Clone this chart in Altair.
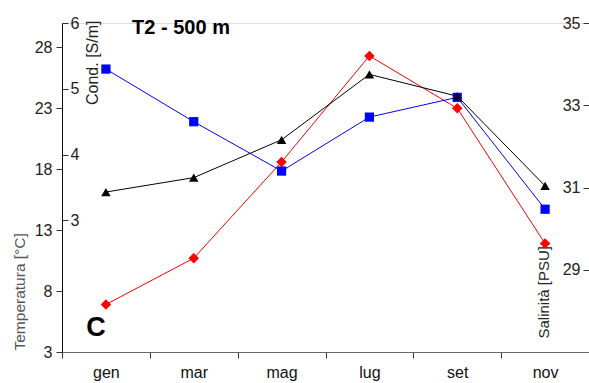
import altair as alt
import pandas as pd

mesi = ["gen", "mar", "mag", "lug", "set", "nov"]
temperatura = [6.9, 10.7, 18.6, 27.3, 23.0, 11.9]
conducibilita = [5.30, 4.50, 3.75, 4.57, 4.87, 3.17]
salinita = [30.89, 31.24, 32.16, 33.75, 33.22, 31.04]

df = pd.DataFrame({"mese": mesi, "temp": temperatura, "cond": conducibilita, "sal": salinita})

W, H = 527, 329
FONT = "Liberation Sans"

x_enc = alt.X("mese:N", sort=mesi, bandPosition=0.5,
              scale=alt.Scale(type="band", paddingInner=0, paddingOuter=0),
              axis=alt.Axis(title=None, tickBand="extent", labelAngle=0, tickSize=6,
                            labelPadding=6, labelFontSize=16, labelColor="#111",
                            domainColor="#666", tickColor="#333", grid=False))

temp = alt.Chart(df).mark_line(
    color="#ff0000", strokeWidth=1,
    point=alt.OverlayMarkDef(shape="diamond", size=110, filled=True, color="#ff0000")
).encode(
    x=x_enc,
    y=alt.Y("temp:Q", scale=alt.Scale(domain=[3, 30], nice=False, zero=False),
            axis=alt.Axis(orient="left", values=[3, 8, 13, 18, 23, 28], tickSize=6,
                          labelPadding=4, domain=False, grid=False, labelFontSize=16,
                          labelColor="#222", tickColor="#333",
                          title="Temperatura [°C]", titleAngle=270, titleAlign="left",
                          titleBaseline="middle", titleX=-43, titleY=327,
                          titleColor="#555", titleFontSize=15.5, titleFontWeight="normal"))
)

cond = alt.Chart(df).mark_line(
    color="#0000ff", strokeWidth=1,
    point=alt.OverlayMarkDef(shape="square", size=85, filled=True, color="#0000ff")
).encode(
    x=x_enc,
    y=alt.Y("cond:Q", scale=alt.Scale(domain=[1, 6], nice=False, zero=False),
            axis=alt.Axis(orient="right", offset=-W, values=[3, 4, 5, 6], tickSize=6,
                          labelPadding=2, domain=True, domainColor="#111", grid=False,
                          labelFontSize=16, labelColor="#222", tickColor="#333",
                          title="Cond. [S/m]", titleAngle=270, titleAlign="right",
                          titleBaseline="middle", titleX=30, titleY=-3,
                          titleColor="#222", titleFontSize=16, titleFontWeight="normal"))
)

sal = alt.Chart(df).mark_line(
    color="#000000", strokeWidth=1,
    point=alt.OverlayMarkDef(shape="triangle-up", size=90, filled=True, color="#000000")
).encode(
    x=x_enc,
    y=alt.Y("sal:Q", scale=alt.Scale(domain=[27, 35], nice=False, zero=False),
            axis=alt.Axis(orient="right", offset=-6, values=[29, 31, 33, 35], tickSize=6,
                          labelPadding=-9, labelAlign="right", domain=False, grid=False,
                          labelFontSize=16, labelColor="#222", tickColor="#333",
                          title="Salinità [PSU]", titleAngle=270, titleAlign="left",
                          titleBaseline="middle", titleX=-40, titleY=315,
                          titleColor="#222", titleFontSize=15, titleFontWeight="normal"))
)

one = alt.Data(values=[{"a": 1}])
heading = alt.Chart(one).mark_text(
    text="T2 - 500 m", fontSize=20, fontWeight="bold", align="center", baseline="middle",
    color="#000"
).encode(x=alt.value(119), y=alt.value(5))

panel = alt.Chart(one).mark_text(
    text="C", fontSize=27, fontWeight="bold", align="center", baseline="middle", color="#000"
).encode(x=alt.value(34), y=alt.value(305))

chart = alt.layer(temp, cond, sal, heading, panel).resolve_scale(y="independent").properties(
    width=W, height=H,
    autosize=alt.AutoSizeParams(type="none"),
    padding={"left": 62, "top": 23, "right": 0, "bottom": 31},
    background="white",
).configure_view(stroke=None).configure(font=FONT)

chart.save("out.html", embed_options={"renderer": "svg", "actions": False})
